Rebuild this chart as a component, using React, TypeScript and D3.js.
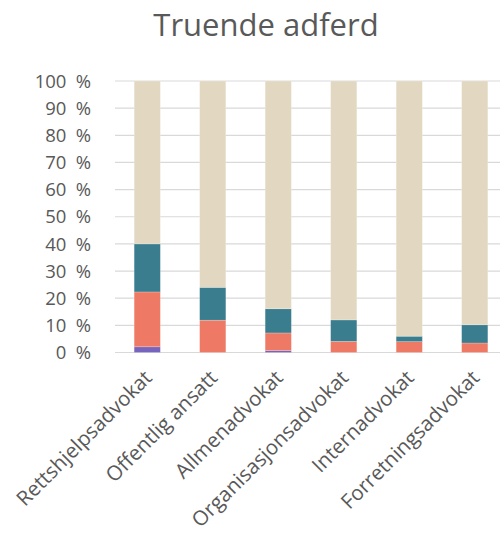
import React from "react";
import * as d3 from "d3";

const categories = [
  "Rettshjelpsadvokat",
  "Offentlig ansatt",
  "Allmenadvokat",
  "Organisasjonsadvokat",
  "Internadvokat",
  "Forretningsadvokat",
];
const seriesA = [2.1, 0, 0.7, 0, 0, 0];
const seriesB = [20.2, 11.9, 6.5, 4.1, 4.0, 3.5];
const seriesC = [17.7, 12.1, 8.9, 7.9, 2.0, 6.7];
const seriesD = [60.0, 76.0, 83.9, 88.0, 94.0, 89.8];
const seriesKeys = ["a", "b", "c", "d"];
const seriesColors = ["#7764bd", "#ee7a65", "#3a7d8e", "#e2d8c2"];
const yTicks = [0, 10, 20, 30, 40, 50, 60, 70, 80, 90, 100];
const title = "Truende adferd";

export default function App() {
  const width = 500;
  const height = 534;
  const x = d3
    .scaleBand<string>()
    .domain(categories)
    .range([114.5, 507.5])
    .paddingInner(0.6)
    .paddingOuter(0.3);
  const y = d3.scaleLinear().domain([0, 100]).range([352.5, 81]);

  const rows = categories.map((c, i) => ({
    cat: c,
    a: seriesA[i],
    b: seriesB[i],
    c: seriesC[i],
    d: seriesD[i],
  }));
  const stack = d3.stack<any>().keys(seriesKeys);
  const layers = stack(rows);
  const font = "'Open Sans', sans-serif";
  const textColor = "#595959";

  return (
    <svg
      width={width}
      height={height}
      style={{ position: "absolute", left: 0, top: 0 }}
    >
      <rect width={width} height={height} fill="#ffffff" />
      <text
        x={266}
        y={36}
        textAnchor="middle"
        fontFamily={font}
        fontSize={31}
        fill={textColor}
      >
        {title}
      </text>
      {yTicks.map((t) => (
        <g key={t}>
          <line
            x1={115}
            x2={500}
            y1={y(t)}
            y2={y(t)}
            stroke="#d9d9d9"
            strokeWidth={1.2}
          />
          <text
            x={91}
            y={y(t)}
            dy="0.36em"
            textAnchor="end"
            fontFamily={font}
            fontSize={18.5}
            wordSpacing={4.5}
            fill={textColor}
          >
            {t + " %"}
          </text>
        </g>
      ))}
      {layers.map((layer, li) => (
        <g key={li} fill={seriesColors[li]}>
          {layer.map((d: any, i: number) => {
            const h = y(d[0]) - y(d[1]);
            if (h <= 0) return null;
            return (
              <rect
                key={i}
                x={x(d.data.cat)}
                y={y(d[1])}
                width={x.bandwidth()}
                height={h}
                stroke="#ffffff"
                strokeOpacity={0.35}
                strokeWidth={0.6}
              />
            );
          })}
        </g>
      ))}
      {categories.map((c) => {
        const cx = (x(c) as number) + x.bandwidth() / 2;
        return (
          <text
            key={c}
            transform={`translate(${cx + 6},${379}) rotate(-45)`}
            textAnchor="end"
            fontFamily={font}
            fontSize={20.5}
            fill={textColor}
          >
            {c}
          </text>
        );
      })}
    </svg>
  );
}
